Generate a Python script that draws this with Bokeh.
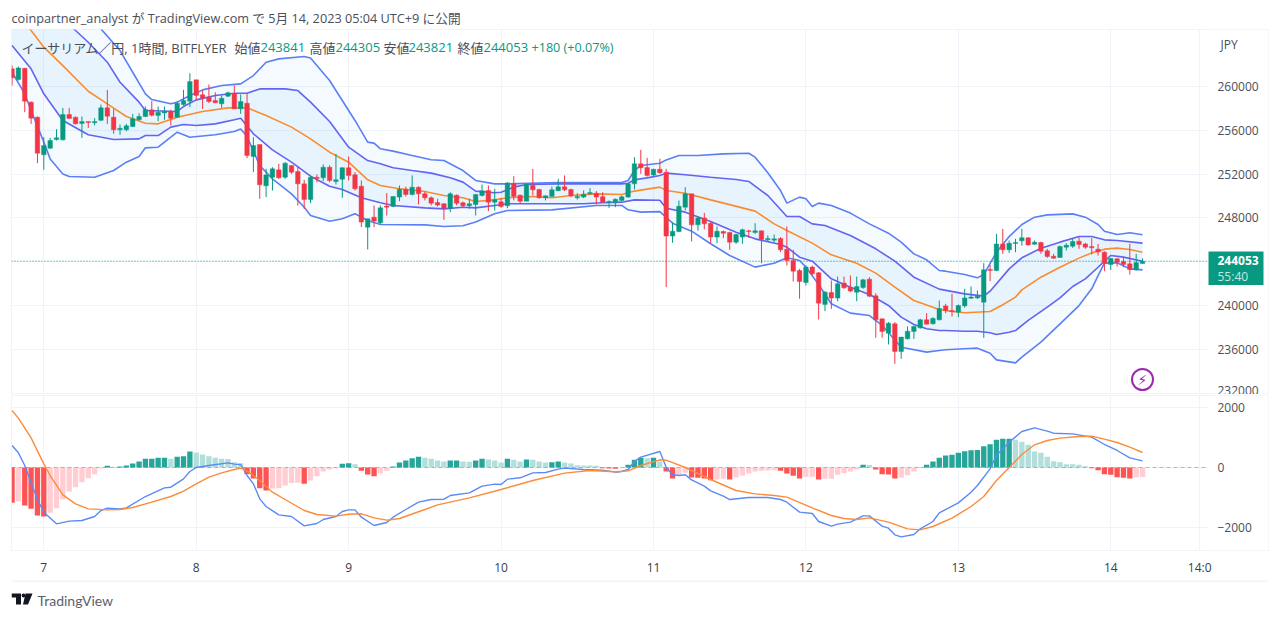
import numpy as np
from bokeh.plotting import figure
from bokeh.layouts import column
from bokeh.models import ColumnDataSource, FixedTicker, Grid, Label, Range1d
from bokeh.core.properties import value
from bokeh.embed import file_html
from bokeh.resources import INLINE

# ---- candles, thousand JPY, hourly, first bar = 6 May 19:00 ----
open_k = [261.61,260.64,261.67,258.57,257.20,253.76,254.37,255.16,255.13,257.44,
257.20,256.62,256.80,256.68,256.92,258.05,257.20,256.04,256.04,256.35,
256.96,257.26,257.87,257.35,257.59,257.69,257.20,258.35,258.66,260.61,
259.24,259.02,258.72,258.42,259.12,259.33,257.96,258.48,253.61,254.70,
250.93,251.72,252.39,251.72,252.79,252.24,251.11,249.68,251.72,251.66,
252.63,251.33,251.54,252.58,251.94,250.90,247.16,248.07,247.55,249.08,
249.05,249.90,250.63,250.14,250.81,250.20,249.84,249.41,249.29,248.89,
250.08,249.38,249.11,249.23,250.05,250.51,249.44,249.47,249.11,251.11,
250.08,249.53,250.96,250.60,249.84,249.96,250.48,250.84,250.60,249.84,
249.90,250.20,250.26,249.93,249.41,249.38,249.60,249.90,251.11,252.94,
252.61,251.91,252.45,252.18,246.34,246.76,248.98,250.20,247.37,248.00,
247.52,246.25,246.76,246.67,245.79,246.25,246.82,246.67,246.82,246.00,
245.97,246.12,245.15,244.12,243.20,242.11,243.51,242.99,240.10,241.19,
240.68,242.05,241.68,241.22,241.65,242.41,240.89,238.79,237.48,238.33,
235.81,236.96,237.63,237.97,238.70,238.33,238.70,239.97,239.55,239.40,
239.97,240.67,240.70,240.31,243.29,243.20,245.63,245.09,245.66,245.91,
246.18,245.60,245.76,245.00,244.51,244.39,245.33,245.42,245.88,245.63,
245.39,245.15,244.87,243.75,244.27,244.02,243.81,243.26,243.841]
close_k = [260.79,261.70,258.66,257.11,253.91,254.61,255.07,255.31,257.44,257.08,
256.59,256.80,256.71,256.80,258.05,257.29,256.04,256.19,256.41,257.05,
257.26,257.90,257.38,257.65,257.72,257.11,258.48,258.72,260.45,259.18,
258.96,258.63,258.51,258.93,259.42,257.96,258.63,253.70,254.61,251.02,
251.93,252.48,251.66,253.00,252.18,251.11,249.68,251.72,251.60,252.63,
251.42,251.48,252.58,251.88,250.66,247.62,247.92,247.71,248.92,248.98,
249.96,250.63,250.14,250.81,250.20,249.84,249.35,249.17,248.89,250.20,
249.35,249.11,249.29,250.14,250.48,249.44,249.68,249.05,251.20,249.96,
249.53,251.05,250.57,249.84,250.02,250.57,250.84,250.57,250.02,249.96,
250.17,250.32,249.90,249.44,249.50,249.71,249.93,251.11,252.94,252.58,
251.88,252.45,252.12,246.34,246.79,249.07,250.20,247.37,248.00,247.46,
246.25,246.79,246.61,245.79,246.49,246.92,246.76,246.82,246.03,246.12,
246.09,245.09,244.12,243.14,242.20,243.51,242.90,240.22,241.22,240.68,
241.99,241.62,241.32,241.74,242.35,240.86,238.70,237.63,238.39,235.81,
237.12,237.66,238.09,238.70,238.30,238.82,239.73,239.55,239.46,240.00,
240.70,240.77,240.86,243.26,243.20,245.63,245.09,245.69,245.76,246.18,
245.54,245.79,244.96,244.48,244.33,245.39,245.51,245.85,245.57,245.33,
245.27,244.90,243.87,244.30,243.96,243.75,243.29,243.93,244.053]
high_k = [261.91,261.82,261.70,258.63,257.26,255.37,255.31,256.10,258.05,258.05,
257.26,257.26,256.80,257.11,258.35,259.69,257.96,256.53,256.59,257.50,
257.56,258.17,258.66,258.17,258.17,257.87,258.66,259.69,261.21,260.61,
259.63,260.18,259.48,259.18,259.54,260.09,259.27,259.39,255.37,254.70,
252.48,252.63,252.94,253.09,252.79,252.70,251.48,251.87,251.96,252.88,
252.79,253.85,252.64,253.61,252.18,251.42,247.92,249.14,249.14,250.26,
249.96,250.96,250.87,251.88,250.87,250.41,249.96,249.75,249.35,250.35,
250.14,249.50,249.75,250.20,251.05,250.96,250.66,249.84,251.27,251.81,
250.14,251.11,252.48,250.66,250.05,250.87,251.57,251.88,250.66,250.26,
250.51,250.72,250.45,250.35,249.60,249.78,250.05,251.17,253.55,254.22,
253.49,252.48,253.40,252.48,247.61,249.59,250.81,250.20,248.13,248.47,
247.68,247.22,246.85,246.76,246.55,247.01,246.92,247.52,246.85,246.40,
246.49,246.25,247.22,245.09,243.35,243.66,243.66,243.05,241.32,242.29,
242.65,242.65,242.75,242.65,242.44,242.59,241.13,238.79,238.49,238.49,
237.12,238.09,238.18,238.79,239.31,238.94,240.46,240.16,241.07,240.10,
241.53,241.74,241.37,243.87,243.72,246.55,247.00,245.94,246.09,247.00,
246.24,245.94,245.82,245.18,244.72,245.48,245.70,246.09,246.24,245.73,
246.15,245.63,244.96,244.36,244.36,244.42,245.63,244.72,244.305]
low_k = [260.09,260.55,257.65,256.59,253.00,252.39,254.31,255.07,255.07,257.05,
256.53,255.31,256.22,256.44,256.83,256.59,255.68,255.59,255.92,256.29,
256.89,257.20,257.26,256.83,256.96,256.44,257.14,258.26,258.11,258.72,
257.96,258.48,258.48,258.05,259.02,257.93,257.50,253.46,252.18,249.74,
249.90,250.50,251.57,251.57,252.03,249.13,248.83,249.35,251.26,251.35,
251.26,251.05,249.84,251.42,250.51,247.16,245.12,247.16,247.40,248.22,
248.98,249.53,249.96,250.05,249.23,249.60,249.14,249.05,247.83,248.53,
249.14,248.98,248.83,248.22,249.96,248.62,248.68,248.92,248.89,249.60,
249.29,249.53,250.05,249.75,249.60,249.96,250.45,250.45,249.90,249.68,
249.81,250.14,249.23,249.38,248.92,248.98,249.53,249.84,250.60,252.03,
251.78,251.81,252.03,241.68,245.73,246.70,248.68,245.85,246.85,246.95,
245.70,245.70,246.15,245.09,245.64,245.64,246.18,246.55,243.87,245.85,
245.79,244.88,243.66,242.20,240.62,241.83,242.75,238.73,239.49,239.70,
240.40,241.53,241.22,240.40,241.53,240.77,237.06,237.06,236.45,234.68,
235.14,236.90,236.96,237.88,238.27,238.27,238.64,239.30,239.00,238.94,
239.79,240.61,240.61,237.05,242.23,243.14,244.72,244.81,244.87,245.48,
245.48,245.54,244.72,244.36,244.27,244.36,245.03,245.27,245.18,245.18,
244.66,244.57,243.14,243.26,243.56,243.50,242.83,243.20,243.821]

# ---- bollinger bands, thousand JPY, read at selected bars ----
mid_i = [0,3,5,8,12,15,18,21,23,26,30,34,37,40,44,47,50,53,56,58,61,65,68,71,73,76,78,82,85,88,92,96,98,102,103,106,110,115,117,120,122,126,129,133,136,139,142,146,148,150,154,156,158,159,162,165,168,170,172,174,176,178]
mid_k = [267.24,265.11,263.59,261.91,259.57,258.42,257.26,256.65,256.59,257.20,257.72,258.05,258.05,257.35,256.29,255.22,254.00,253.09,251.48,250.96,250.66,250.41,250.05,249.84,249.50,249.65,249.84,249.96,249.84,250.05,250.20,250.14,250.45,250.81,250.50,250.26,249.65,248.92,248.62,247.46,246.85,245.70,244.63,243.87,242.96,241.68,240.46,239.64,239.46,239.34,239.46,240.07,240.77,241.43,242.59,243.50,244.33,244.81,245.15,245.24,245.12,244.87]
inner_up_i = [0,5,10,12,15,17,20,21,26,27,29,32,35,37,39,43,45,47,50,53,56,58,60,63,66,69,71,73,76,77,79,81,86,91,96,97,98,100,102,103,106,110,114,116,119,122,124,126,128,132,136,139,142,146,150,153,154,157,159,162,165,168,170,172,174,178]
inner_up_k = [270.28,267.85,265.11,264.04,262.22,260.39,258.57,257.81,257.72,258.17,258.78,259.18,259.39,259.39,259.78,259.78,259.63,258.57,256.80,254.46,253.24,252.94,252.58,252.33,252.09,251.66,251.27,250.45,250.30,250.35,250.81,251.05,251.11,251.11,251.11,251.17,251.48,251.66,251.88,252.09,251.94,251.72,251.51,251.33,250.05,248.13,248.13,247.46,247.31,246.40,245.18,244.05,242.59,241.50,241.07,240.86,241.31,243.35,244.36,245.24,245.79,246.30,246.30,246.00,245.94,245.70]
outer_up_i = [0,7,12,14,17,19,21,22,25,26,28,30,33,36,38,40,42,46,47,50,54,56,57,58,60,63,66,68,71,73,76,78,86,96,97,98,99,102,103,105,108,112,116,117,119,121,122,124,125,126,127,129,132,135,138,140,142,144,146,147,150,152,153,155,157,159,161,163,167,169,171,172,174,176,178]
outer_up_k = [273.02,269.07,266.33,265.26,263.28,261.30,259.33,258.81,258.42,258.57,259.18,259.69,260.09,260.24,261.00,262.22,262.52,262.74,262.61,260.55,256.90,254.92,254.83,254.31,254.10,253.70,253.31,253.24,252.33,251.42,251.11,251.11,251.24,251.24,251.42,252.33,252.79,253.00,253.30,253.70,253.70,253.85,253.91,253.55,252.12,250.50,249.35,249.90,249.75,249.05,249.35,249.14,248.44,247.46,246.61,245.79,244.72,244.18,243.20,243.14,242.83,242.53,242.83,244.87,246.30,247.40,248.07,248.28,248.37,248.07,247.40,246.79,246.49,246.64,246.46]
inner_lo_i = [0,3,5,8,12,16,20,21,23,25,27,29,32,35,36,38,41,44,47,50,52,55,58,60,65,68,71,73,76,78,90,93,96,98,102,103,106,110,114,117,121,122,124,126,129,132,135,138,140,142,144,146,147,150,152,154,155,157,158,160,163,165,167,169,171,172,173,175,178]
inner_lo_k = [263.74,261.61,259.33,256.89,255.60,255.16,255.22,255.52,255.52,256.29,256.53,256.44,256.59,256.96,257.11,255.68,254.22,253.09,251.81,250.90,250.60,249.84,249.38,249.14,248.92,248.83,248.98,248.92,249.14,249.29,249.29,249.38,249.44,249.65,249.62,248.89,248.53,247.68,246.70,246.09,245.58,245.33,244.42,244.05,242.44,241.68,241.01,240.01,238.94,238.27,237.88,237.72,237.72,237.66,237.66,237.51,237.36,237.57,237.72,238.64,239.85,240.70,241.74,242.44,243.50,244.05,244.57,244.42,244.05]
outer_lo_i = [0,2,3,5,6,8,9,13,16,18,20,21,23,25,26,28,32,35,36,37,39,41,44,46,47,50,52,54,55,56,58,65,68,71,73,76,78,85,92,96,97,99,102,104,107,110,113,117,120,122,124,125,127,129,132,135,137,140,144,146,147,150,152,154,155,158,159,162,166,168,170,171,172,174,176,178]
outer_lo_k = [261.30,259.33,257.81,254.92,253.39,252.02,251.78,251.72,252.33,253.09,253.61,254.40,254.46,255.37,255.83,255.37,255.60,255.89,256.13,255.43,252.79,251.57,250.20,248.98,248.22,247.70,247.92,248.38,248.07,247.77,247.40,247.37,247.22,247.28,247.62,248.38,248.68,248.74,249.14,249.14,248.74,248.53,248.58,247.52,246.79,245.64,244.57,243.51,243.87,244.36,244.12,243.51,241.92,240.16,239.31,239.09,238.18,236.20,235.75,235.90,235.96,236.05,236.11,235.65,235.04,234.77,235.29,236.66,238.88,240.00,241.53,242.74,243.87,243.90,243.35,243.26]

# ---- MACD ----
hist = [-1178,-1122,-1267,-1378,-1600,-1633,-1511,-1356,-1067,-800,-656,-489,-356,-222,-33,56,22,33,67,133,
200,289,289,322,322,289,356,378,533,500,433,378,322,289,280,178,144,-222,-367,-689,
-767,-700,-690,-600,-520,-510,-544,-433,-289,-133,-67,-22,122,144,111,-111,-233,-289,-200,-111,
33,167,233,311,356,322,289,233,200,233,233,200,195,233,289,267,233,167,289,256,
200,267,256,200,167,178,200,167,133,78,70,65,56,-22,-33,-44,-11,89,256,322,
310,322,200,-133,-367,-244,-178,-333,-344,-367,-422,-400,-378,-400,-333,-267,-200,-133,-111,-100,
-89,-111,-200,-278,-367,-311,-311,-400,-378,-378,-244,-189,-133,-67,89,80,-67,-222,-233,-367,
-344,-256,-133,11,89,200,322,400,422,489,544,578,580,711,778,922,956,960,922,856,
756,533,489,356,211,178,111,105,89,44,-22,-89,-222,-244,-322,-344,-367,-322,-320]
macd_i = [0,1,2,3,4,5,7,9,11,13,14,15,17,18,21,24,25,27,28,29,31,34,35,36,37,38,39,40,42,44,46,48,49,51,52,53,54,55,57,59,60,62,64,66,68,69,72,74,76,77,78,80,82,84,86,87,90,93,95,96,97,98,99,102,103,104,105,106,107,109,110,112,113,116,119,121,122,124,126,127,129,130,132,134,135,137,138,139,140,142,143,145,146,149,151,152,154,155,157,159,161,163,164,167,170,172,174,176,178]
macd = [733,489,67,-511,-1067,-1489,-1878,-1789,-1767,-1633,-1433,-1356,-1378,-1344,-967,-678,-656,-378,-133,0,67,156,111,100,-267,-544,-1044,-1300,-1578,-1633,-1944,-1867,-1733,-1633,-1467,-1411,-1411,-1656,-1933,-1833,-1656,-1400,-1156,-1067,-1056,-933,-844,-622,-556,-567,-389,-344,-178,-167,-56,-22,-67,-89,-156,-133,-67,200,344,533,11,-233,-267,-244,-411,-622,-778,-956,-1067,-1000,-1000,-1067,-1156,-1489,-1533,-1800,-1956,-1889,-1822,-1611,-1611,-1956,-2022,-2244,-2311,-2233,-2044,-1800,-1511,-1178,-822,-600,-44,400,844,1200,1322,1211,1144,1122,1011,767,567,322,222]
signal_i = [0,1,3,5,6,8,10,12,15,17,19,22,25,27,29,31,33,35,36,37,39,41,43,46,48,51,53,55,57,59,61,65,67,72,77,82,87,91,95,97,99,102,103,106,110,114,117,120,122,126,129,131,133,135,138,141,143,145,148,151,153,155,157,159,161,163,165,168,170,172,174,176,178]
signal = [1900,1644,989,122,-267,-911,-1211,-1378,-1411,-1400,-1333,-1156,-967,-789,-544,-322,-178,-67,-22,-111,-433,-822,-1067,-1433,-1567,-1622,-1556,-1544,-1678,-1756,-1700,-1400,-1244,-1011,-733,-433,-189,-100,-144,-111,67,256,244,0,-400,-767,-878,-933,-989,-1344,-1600,-1700,-1733,-1678,-1822,-2044,-2078,-1967,-1689,-1300,-967,-433,0,433,756,900,978,1033,1044,944,833,678,500]

price_ticks = [232000,236000,240000,248000,252000,256000,260000]
price_grid = [232000,236000,240000,244000,248000,252000,256000,260000]
macd_ticks = [-2000,0,2000]
day_ticks = [5,29,53,77,101,125,149,173,187]
day_labels = ["7","8","9","10","11","12","13","14","14:0"]
last_close = 244053

UP, DOWN = "#089981", "#f23645"
GRID = "#f0f3fa"
FONT = "Open Sans, Noto Sans CJK JP"
TXT = "#4a4e59"
STANDOFF = -51

# pixel helpers for annotations only
X0, DX = 11.55, 6.351
def xd(px): return (px - X0) / DX
def yd(py): return 260000 - (py - 86) * 91.3
def ydm(py): return (467 - py) * 33.33

xr = (xd(11), xd(1268))
yr = (yd(393), yd(29))
ym = (ydm(550), ydm(395))

def tx(fig, x, y, t, color=TXT, size="13px", style="normal", font=FONT, align="left"):
    fig.text([x], [y], text=[t], text_color=color, text_font=value(font), text_font_size=size,
             text_font_style=style, text_baseline="middle", text_align=align)

# ---- header strip ----
p0 = figure(width=1272, height=29, output_backend="svg", toolbar_location=None,
            x_range=Range1d(11, 1268), y_range=Range1d(29, 0),
            x_axis_location=None, y_axis_location=None, frame_width=1257, frame_height=29,
            min_border_left=11, min_border_right=4, min_border_top=0, min_border_bottom=0,
            outline_line_color=None, background_fill_color="white", border_fill_color="white")
p0.grid.visible = False
tx(p0, 11, 17, "coinpartner_analyst \u304c TradingView.com \u3067 5\u6708 14, 2023 05:04 UTC+9 \u306b\u516c\u958b", size="12.7px")

# ---- price pane ----
p1 = figure(width=1272, height=365, output_backend="svg", toolbar_location=None,
            x_range=Range1d(*xr), y_range=Range1d(*yr),
            x_axis_location=None, y_axis_location="right",
            frame_width=1257, frame_height=364,
            min_border_left=11, min_border_top=0, min_border_bottom=1, min_border_right=4,
            outline_line_color=GRID, background_fill_color="white", border_fill_color="white")
p1.xgrid.visible = False
p1.ygrid.grid_line_color = GRID
p1.ygrid.ticker = FixedTicker(ticks=price_grid)
p1.add_layout(Grid(dimension=0, ticker=FixedTicker(ticks=day_ticks), grid_line_color=GRID))

def style_y(a, ticks, overrides):
    a.ticker = FixedTicker(ticks=ticks)
    a.major_tick_line_color = None
    a.minor_tick_line_color = None
    a.major_tick_in = 0
    a.major_tick_out = 0
    a.axis_line_color = None
    a.major_label_text_font = FONT
    a.major_label_text_font_size = "12px"
    a.major_label_text_color = TXT
    a.major_label_standoff = STANDOFF
    a.major_label_overrides = overrides

style_y(p1.yaxis[0], price_ticks, {t: str(t) for t in price_ticks})
p1.quad(left=[xd(1208)], right=[xr[1]], bottom=[yr[0]], top=[yr[1]], fill_color="white", line_color=None)

def series(k): return [v * 1000 for v in k]

# bands
ou_x, ou_y = outer_up_i, series(outer_up_k)
ol_x, ol_y = outer_lo_i, series(outer_lo_k)
iu_x, iu_y = inner_up_i, series(inner_up_k)
il_x, il_y = inner_lo_i, series(inner_lo_k)
p1.patch(ou_x + ol_x[::-1], ou_y + ol_y[::-1], fill_color="#2196f3", fill_alpha=0.05, line_color=None)
p1.patch(iu_x + il_x[::-1], iu_y + il_y[::-1], fill_color="#2196f3", fill_alpha=0.06, line_color=None)
p1.line(ou_x, ou_y, line_color="#5b7ff5", line_width=1.6)
p1.line(ol_x, ol_y, line_color="#5b7ff5", line_width=1.6)
p1.line(iu_x, iu_y, line_color="#6464f0", line_width=1.6)
p1.line(il_x, il_y, line_color="#6464f0", line_width=1.6)
p1.line(mid_i, series(mid_k), line_color="#fb8c2e", line_width=1.6)

# last-close line
p1.segment([xr[0]], [last_close], [xd(1208)], [last_close], line_color=UP, line_dash="1 2", line_width=1)

# candles
n = len(open_k)
idx = list(range(n))
colors = [UP if c >= o else DOWN for o, c in zip(open_k, close_k)]
src = ColumnDataSource(dict(x=idx, o=series(open_k), c=series(close_k), h=series(high_k), l=series(low_k), col=colors))
p1.segment("x", "h", "x", "l", source=src, line_color="col", line_width=1)
p1.vbar("x", 0.72, "o", "c", source=src, fill_color="col", line_color="col", line_width=0.4)

# lightning icon
p1.scatter([xd(1142)], [yd(379)], size=21, marker="circle", fill_color=None, line_color="#9c27b0", line_width=2)
tx(p1, xd(1142), yd(379), "\u26a1", color="#9c27b0", size="14px", font="DejaVu Sans", align="center")

# legend
tx(p1, xd(21), yd(47), "\u30a4\u30fc\u30b5\u30ea\u30a2\u30e0\uff0f\u5186, 1\u6642\u9593, BITFLYER")
for px, t in [(234, "\u59cb\u5024"), (309, "\u9ad8\u5024"), (383, "\u5b89\u5024"), (457, "\u7d42\u5024")]:
    tx(p1, xd(px), yd(47), t)
for px, t in [(260, "243841"), (335, "244305"), (408, "243821"), (483, "244053"), (531, "+180 (+0.07%)")]:
    tx(p1, xd(px), yd(47), t, color=UP, size="12.6px" if px == 531 else "13px")

# price scale furniture
tx(p1, xd(1220), yd(44), "JPY", size="12px")
p1.quad(left=[xd(1208)], right=[xd(1263)], bottom=[yd(284.5)], top=[yd(251)], fill_color=UP, line_color=None)
tx(p1, xd(1217), yd(259.5), "244053", color="white", size="12px", style="bold")
tx(p1, xd(1217), yd(276), "55:40", color="#c5e8e2", size="12px")

# ---- MACD pane ----
p2 = figure(width=1272, height=186, output_backend="svg", toolbar_location=None,
            x_range=p1.x_range, y_range=Range1d(*ym),
            y_axis_location="right",
            frame_width=1257, frame_height=155,
            min_border_left=11, min_border_top=1, min_border_bottom=30, min_border_right=4,
            outline_line_color=GRID, background_fill_color="white", border_fill_color="white")
p2.ygrid.ticker = FixedTicker(ticks=macd_ticks)
p2.ygrid.grid_line_color = GRID
p2.xgrid.ticker = FixedTicker(ticks=day_ticks)
p2.xgrid.grid_line_color = GRID
style_y(p2.yaxis[0], macd_ticks, {-2000: "\u22122000", 0: "0", 2000: "2000"})
b2 = p2.xaxis[0]
b2.ticker = FixedTicker(ticks=day_ticks)
b2.major_label_overrides = dict(zip(day_ticks, day_labels))
b2.major_tick_line_color = None
b2.minor_tick_line_color = None
b2.major_tick_in = 0
b2.major_tick_out = 0
b2.axis_line_color = None
b2.major_label_text_font = FONT
b2.major_label_text_font_size = "12px"
b2.major_label_text_color = "#3a3e49"
b2.major_label_standoff = 8
p2.quad(left=[xd(1208)], right=[xr[1]], bottom=[ym[0]], top=[ym[1]], fill_color="white", line_color=None)

hcol = []
for i, v in enumerate(hist):
    prev = hist[i - 1] if i else v
    if v >= 0:
        hcol.append("#26a69a" if v >= prev else "#b2dfdb")
    else:
        hcol.append("#ff5252" if v < prev or i == 0 else "#ffcdd2")
p2.vbar(idx, 0.84, 0, hist, fill_color=hcol, line_color=None)
p2.segment([xr[0]], [0], [xd(1208)], [0], line_color="#787b86", line_alpha=0.5, line_dash="4 3", line_width=1)
p2.line(macd_i, macd, line_color="#5b8af5", line_width=1.4)
p2.line(signal_i, signal, line_color="#fb8c3a", line_width=1.4)

# ---- footer ----
p3 = figure(width=1272, height=30, output_backend="svg", toolbar_location=None,
            x_range=Range1d(11, 1268), y_range=Range1d(610, 580),
            x_axis_location=None, y_axis_location=None, frame_width=1257, frame_height=30,
            min_border_left=11, min_border_right=4, min_border_top=0, min_border_bottom=0,
            outline_line_color=None, background_fill_color="white", border_fill_color="white")
p3.grid.visible = False
p3.patch([11, 20.5, 20.5, 15.5, 15.5, 11], [593, 593, 604, 604, 597, 597], fill_color="#131722", line_color=None)
p3.circle([23], [595], radius=1.9, fill_color="#131722", line_color=None)
p3.patch([25, 32, 27.5, 22.5], [593, 593, 604, 604], fill_color="#131722", line_color=None)
tx(p3, 37, 600, "TradingView", color="#5d606b", size="14px", font="Lato")
p3.segment([11], [580.5], [1268], [580.5], line_color=GRID, line_width=2)

page = column(p0, p1, p2, p3, spacing=0)
open("out.html", "w").write(file_html(page, INLINE))
